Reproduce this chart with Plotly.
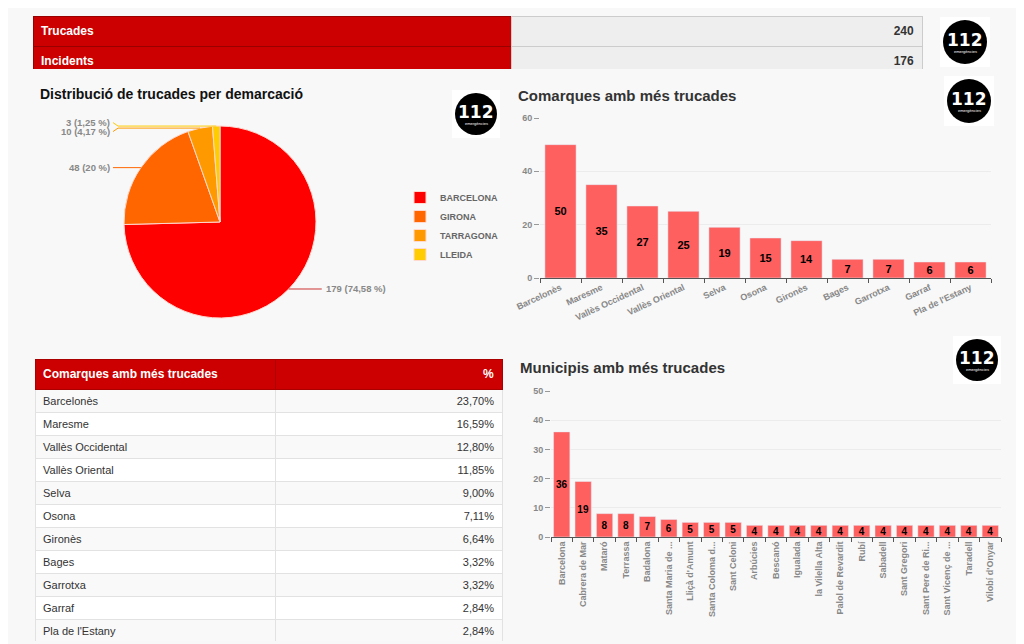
import math
import plotly.graph_objects as go

W, H = 1024, 644
OFF = 8  # page body margin offset


def px(x):
    return (x - OFF) / W


def py(y):
    return 1 - (y - OFF) / H


# ---------------- data ----------------
summary_labels = ["Trucades", "Incidents"]
summary_values = [240, 176]

pie_labels = ["BARCELONA", "GIRONA", "TARRAGONA", "LLEIDA"]
pie_values = [179, 48, 10, 3]
pie_colors = ["#ff0000", "#ff6600", "#ff9900", "#ffcc00"]

comarques = ["Barcelonès", "Maresme", "Vallès Occidental", "Vallès Oriental", "Selva",
             "Osona", "Gironès", "Bages", "Garrotxa", "Garraf", "Pla de l'Estany"]
comarques_values = [50, 35, 27, 25, 19, 15, 14, 7, 7, 6, 6]
comarques_pct = ["23,70%", "16,59%", "12,80%", "11,85%", "9,00%", "7,11%", "6,64%",
                 "3,32%", "3,32%", "2,84%", "2,84%"]

municipis = ["Barcelona", "Cabrera de Mar", "Mataró", "Terrassa", "Badalona",
             "Santa Maria de ...", "Lliçà d'Amunt", "Santa Coloma d...", "Sant Celoni",
             "Arbúcies", "Bescanó", "Igualada", "la Vilella Alta", "Palol de Revardit",
             "Rubí", "Sabadell", "Sant Gregori", "Sant Pere de Ri...", "Sant Vicenç de ...",
             "Taradell", "Vilobí d'Onyar"]
municipis_values = [36, 19, 8, 8, 7, 6, 5, 5, 5, 4, 4, 4, 4, 4, 4, 4, 4, 4, 4, 4, 4]

# ---------------- style ----------------
FONT = "Liberation Sans, Arial, sans-serif"
BG = "#f8f8f8"
RED = "#cc0000"
BAR = "#fe5f5f"
GRAY_TXT = "#888888"

fig = go.Figure()

# ---- top summary table ----
fig.add_trace(go.Table(
    domain=dict(x=[px(33), px(922)], y=[py(70), py(16)]),
    columnwidth=[478, 411],
    header=dict(
        values=[f"<b>{summary_labels[0]}</b>", f"<b>{summary_values[0]}</b>"],
        fill_color=[RED, "#eeeeee"],
        line=dict(color=["#990000", "#cccccc"], width=1),
        align=["left", "right"],
        font=dict(family=FONT, size=12, color=["white", "#333333"]),
        height=27,
    ),
    cells=dict(
        values=[[f"<b>{summary_labels[1]}</b>"], [f"<b>{summary_values[1]}</b>"]],
        fill_color=[[RED], ["#eeeeee"]],
        line=dict(color=[["#990000"], ["#cccccc"]], width=1),
        align=["left", "right"],
        font=dict(family=FONT, size=12, color=[["white"], ["#333333"]]),
        height=27,
    ),
))

# ---- comarques table ----
row_fills = ["#f9f9f9" if i % 2 == 0 else "#ffffff" for i in range(len(comarques))]
fig.add_trace(go.Table(
    domain=dict(x=[px(35), px(502)], y=[py(641), py(359)]),
    columnwidth=[240, 227],
    header=dict(
        values=["<b>Comarques amb més trucades</b>", "<b>%</b>"],
        fill_color=RED,
        line=dict(color="#aa0000", width=1),
        align=["left", "right"],
        font=dict(family=FONT, size=12, color="white"),
        height=27,
    ),
    cells=dict(
        values=[comarques, comarques_pct],
        fill_color=[row_fills, row_fills],
        line=dict(color="#e2e2e2", width=1),
        align=["left", "right"],
        font=dict(family=FONT, size=11, color="#333333"),
        height=23,
    ),
))

# ---- pie ----
cx, cy, R = 220, 222, 96
fig.add_trace(go.Pie(
    labels=pie_labels,
    values=pie_values,
    marker=dict(colors=pie_colors, line=dict(color="#ffd9d0", width=1)),
    sort=False,
    direction="clockwise",
    rotation=0,
    textinfo="none",
    domain=dict(x=[px(cx - R), px(cx + R)], y=[py(cy + R), py(cy - R)]),
    showlegend=True,
    automargin=False,
))

# pie outside labels with leader lines, derived from values
total = sum(pie_values)
shapes = []
annotations = []
cum = 0
left_items = []
for lab, v, col in zip(pie_labels, pie_values, pie_colors):
    mid = (cum + v / 2) / total * 2 * math.pi
    cum += v
    ex = cx + R * math.sin(mid)
    ey = cy - R * math.cos(mid)
    p = v / total * 100
    ps = f"{p:.2f}".rstrip("0").rstrip(".").replace(".", ",")
    txt = f"{v} ({ps} %)"
    if math.sin(mid) > 0:
        shapes.append(dict(type="line", xref="paper", yref="paper",
                           x0=px(ex), y0=py(ey), x1=px(ex + 33), y1=py(ey),
                           line=dict(color="#cc3333", width=1)))
        annotations.append(dict(x=px(ex + 35), y=py(ey), xref="paper", yref="paper",
                                text=f"<b>{txt}</b>", showarrow=False, xanchor="left",
                                yanchor="middle",
                                font=dict(family=FONT, size=9.5, color=GRAY_TXT)))
    else:
        left_items.append([ey, ex, ey, txt, col])

# resolve overlaps on left side
left_items.sort(key=lambda t: t[0])
groups = []
for it in left_items:
    if groups and it[0] - groups[-1][-1][0] < 12:
        groups[-1].append(it)
    else:
        groups.append([it])
for g in groups:
    if len(g) > 1:
        orig_mean = sum(t[0] for t in g) / len(g)
        ys = [g[0][0]]
        for t in g[1:]:
            ys.append(max(t[0], ys[-1] + 9))
        shift = sum(ys) / len(ys) - orig_mean
        for t, yv in zip(g, ys):
            t[2] = yv - shift
    for ey, ex, ly, txt, col in g:
        shapes.append(dict(type="path", xref="paper", yref="paper",
                           path=f"M {px(ex)} {py(ey)} L {px(118)} {py(ey)} L {px(113)} {py(ly)}",
                           line=dict(color=col, width=1)))
        annotations.append(dict(x=px(112), y=py(ly), xref="paper", yref="paper",
                                text=f"<b>{txt}</b>", showarrow=False, xanchor="right",
                                yanchor="middle",
                                font=dict(family=FONT, size=9.5, color=GRAY_TXT)))

# ---- bar chart: comarques ----
fig.add_trace(go.Bar(
    x=comarques, y=comarques_values, xaxis="x", yaxis="y",
    marker=dict(color=BAR), texttemplate="%{y}", textposition="inside",
    insidetextanchor="middle", constraintext="none", textangle=0,
    textfont=dict(family=FONT, size=11, color="black", weight="bold"),
    showlegend=False,
))

# ---- bar chart: municipis ----
fig.add_trace(go.Bar(
    x=municipis, y=municipis_values, xaxis="x2", yaxis="y2",
    marker=dict(color=BAR), texttemplate="%{y}", textposition="inside",
    insidetextanchor="middle", constraintext="none", textangle=0,
    textfont=dict(family=FONT, size=10, color="black", weight="bold"),
    showlegend=False,
))

tickfont = dict(family=FONT, size=9, color=GRAY_TXT, weight="bold")

# ---- titles ----
annotations += [
    dict(x=px(38), y=py(94), text="<b>Distribució de trucades per demarcació</b>",
         xref="paper", yref="paper", showarrow=False, xanchor="left", yanchor="middle",
         font=dict(family=FONT, size=14, color="#111111")),
    dict(x=px(516), y=py(95), text="<b>Comarques amb més trucades</b>",
         xref="paper", yref="paper", showarrow=False, xanchor="left", yanchor="middle",
         font=dict(family=FONT, size=15, color="#333333")),
    dict(x=px(518), y=py(367), text="<b>Municipis amb més trucades</b>",
         xref="paper", yref="paper", showarrow=False, xanchor="left", yanchor="middle",
         font=dict(family=FONT, size=15, color="#333333")),
]

# ---- logos ----
logos = [(965, 42, 22), (476, 114, 21), (969, 101, 22), (977, 360, 21)]
for lx, ly, lr in logos:
    shapes.append(dict(type="rect", xref="paper", yref="paper",
                       x0=px(lx - lr - 3), x1=px(lx + lr + 3), y0=py(ly + lr + 3), y1=py(ly - lr - 3),
                       fillcolor="white", line=dict(width=0), layer="below"))
    shapes.append(dict(type="circle", xref="paper", yref="paper",
                       x0=px(lx - lr), x1=px(lx + lr), y0=py(ly + lr), y1=py(ly - lr),
                       fillcolor="black", line=dict(width=0)))
    annotations.append(dict(x=px(lx), y=py(ly - 2), xref="paper", yref="paper",
                            text="<b>112</b>", showarrow=False, xanchor="center", yanchor="middle",
                            font=dict(family="DejaVu Sans, sans-serif", size=17, color="white")))
    annotations.append(dict(x=px(lx), y=py(ly + 9), xref="paper", yref="paper",
                            text="emergències", showarrow=False, xanchor="center", yanchor="middle",
                            font=dict(family=FONT, size=4, color="white")))

fig.update_layout(
    width=W, height=H,
    margin=dict(l=0, r=0, t=0, b=0, autoexpand=False),
    paper_bgcolor=BG, plot_bgcolor=BG,
    font=dict(family=FONT),
    bargap=0.24,
    xaxis=dict(domain=[px(540), px(991)], anchor="y", type="category", automargin=False,
               tickangle=-25, tickfont=tickfont, showgrid=False,
               showline=True, linecolor="#555555", linewidth=1,
               ticks="outside", tickson="boundaries", ticklen=4, tickcolor="#555555"),
    yaxis=dict(domain=[py(278), py(118)], anchor="x", range=[0, 60], automargin=False,
               tickvals=[0, 20, 40, 60], tickfont=tickfont,
               showgrid=True, gridcolor="#ececec", zeroline=False,
               ticks="outside", ticklen=5, tickcolor="#999999", showline=False),
    xaxis2=dict(domain=[px(551), px(1001)], anchor="y2", type="category", automargin=False,
                tickangle=-90, tickfont=tickfont, showgrid=False,
                showline=True, linecolor="#555555", linewidth=1,
                ticks="outside", tickson="boundaries", ticklen=4, tickcolor="#555555"),
    yaxis2=dict(domain=[py(537), py(391)], anchor="x2", range=[0, 50], automargin=False,
                tickvals=[0, 10, 20, 30, 40, 50], tickfont=tickfont,
                showgrid=True, gridcolor="#ececec", zeroline=False,
                ticks="outside", ticklen=5, tickcolor="#999999", showline=False),
    legend=dict(x=px(400), y=py(183), xanchor="left", yanchor="top",
                bgcolor="rgba(0,0,0,0)",
                font=dict(family=FONT, size=9, color="#666666", weight="bold"),
                itemwidth=30, tracegroupgap=0),
    shapes=shapes,
    annotations=annotations,
)

fig.write_html("out.html")
